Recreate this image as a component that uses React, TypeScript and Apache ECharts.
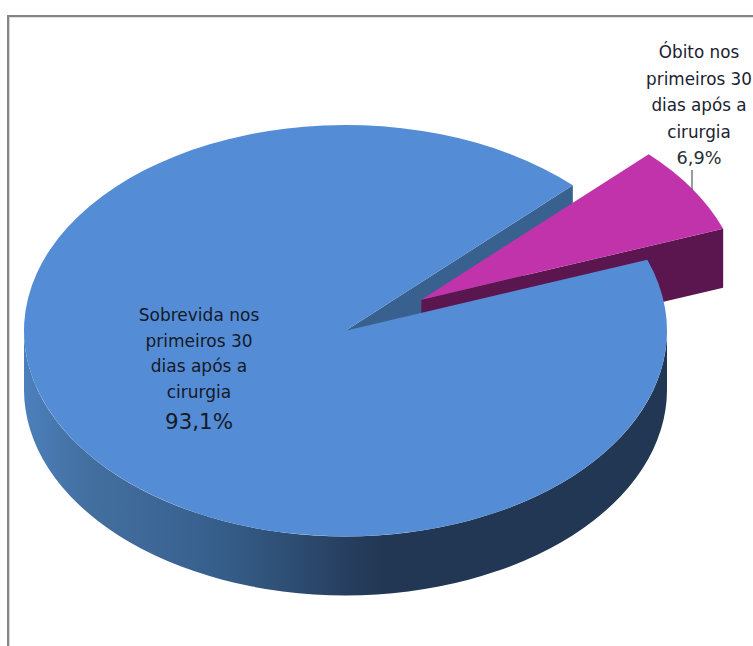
import React, { useEffect, useRef } from "react";
import * as echarts from "echarts";

// Slice names and shares (%), in clockwise order from the start angle.
const categories = ["Óbito nos\nprimeiros 30\ndias após a\ncirurgia", "Sobrevida nos\nprimeiros 30\ndias após a\ncirurgia"];
const values = [6.9, 93.1];
const explode = [0.28, 0];
const topColors = ["#c133ab", "#558cd6"];

const WIDTH = 753;
const HEIGHT = 646;
const CX = 345.5;
const CY = 330.7;
const RX = 321.5;
const RY = 205.7;
const DEPTH = 59;
const START_ANGLE = 45;

const rad = (deg: number) => (deg * Math.PI) / 180;
const fmt = (v: number) => `${v.toFixed(1).replace(".", ",")}%`;

function renderSlice(params: any, api: any) {
  const i = params.dataIndex;
  const total = values.reduce((a, b) => a + b, 0);
  const before = values.slice(0, i).reduce((a, b) => a + b, 0);
  const end = START_ANGLE - (before / total) * 360; // counter-clockwise limit
  const start = end - (api.value(0) / total) * 360; // clockwise limit
  const mid = rad((start + end) / 2);
  const cx = CX + explode[i] * RX * Math.cos(mid);
  const cy = CY - explode[i] * RY * Math.sin(mid);
  const pt = (deg: number, dy = 0) =>
    `${cx + RX * Math.cos(rad(deg))} ${cy - RY * Math.sin(rad(deg)) + dy}`;
  const large = end - start > 180 ? 1 : 0;

  const path = (d: string, fill: any, z2: number) => ({
    type: "path",
    z2,
    shape: { pathData: d },
    style: { fill },
  });

  const top = `M${cx} ${cy}L${pt(start)}A${RX} ${RY} 0 ${large} 0 ${pt(end)}Z`;

  if (i === 0) {
    // Exploded wedge: only its lower radial wall faces the viewer.
    const wall = `M${cx} ${cy}L${pt(start)}L${pt(start, DEPTH)}L${cx} ${cy + DEPTH}Z`;
    return {
      type: "group",
      children: [
        path(wall, "#5b1650", 3),
        path(top, topColors[i], 4),
        {
          type: "line",
          z2: 6,
          shape: { x1: 692, y1: 170, x2: 692, y2: 190 },
          style: { stroke: "#595959", lineWidth: 1.2 },
        },
        {
          type: "text",
          z2: 7,
          style: {
            text: categories[i],
            x: 699,
            y: 92,
            align: "center",
            verticalAlign: "middle",
            font: "16.8px 'DejaVu Sans'",
            lineHeight: 26.4,
            fill: "#1b2230",
          },
        },
        {
          type: "text",
          z2: 7,
          style: {
            text: fmt(api.value(0)),
            x: 699,
            y: 158,
            align: "center",
            verticalAlign: "middle",
            font: "17.7px 'DejaVu Sans'",
            fill: "#2a2f38",
          },
        },
      ],
    };
  }

  // Main body: inner cut wall and the front rim with its horizontal shading.
  const innerWall = `M${cx} ${cy}L${pt(start)}L${pt(start, DEPTH)}L${cx} ${cy + DEPTH}Z`;
  const rim =
    `M${pt(180)}A${RX} ${RY} 0 0 0 ${pt(360)}` +
    `L${pt(360, DEPTH)}A${RX} ${RY} 0 0 1 ${pt(180, DEPTH)}Z`;
  const rimFill = {
    type: "linear",
    x: 0,
    y: 0,
    x2: 1,
    y2: 0,
    colorStops: [
      { offset: 0, color: "#4c7fbc" },
      { offset: 0.1, color: "#436f9f" },
      { offset: 0.28, color: "#38618f" },
      { offset: 0.4, color: "#2f5076" },
      { offset: 0.5, color: "#273f5f" },
      { offset: 0.56, color: "#223753" },
      { offset: 1, color: "#223753" },
    ],
  };
  return {
    type: "group",
    children: [
      path(innerWall, "#38618f", 1),
      path(rim, rimFill, 2),
      path(top, topColors[i], 5),
      {
        type: "text",
        z2: 7,
        style: {
          text: categories[i],
          x: 199,
          y: 353.5,
          align: "center",
          verticalAlign: "middle",
          font: "17px 'DejaVu Sans'",
          lineHeight: 25.7,
          fill: "#141a26",
        },
      },
      {
        type: "text",
        z2: 7,
        style: {
          text: fmt(api.value(0)),
          x: 199,
          y: 421,
          align: "center",
          verticalAlign: "middle",
          font: "21.4px 'DejaVu Sans'",
          fill: "#141a26",
        },
      },
    ],
  };
}

export default function App() {
  const ref = useRef<HTMLDivElement>(null);

  useEffect(() => {
    document.body.style.margin = "0";
    const chart = echarts.init(ref.current!, null, { renderer: "svg" });
    chart.setOption({
      animation: false,
      backgroundColor: "#ffffff",
      graphic: [
        // Chart-area frame, open on the right and at the bottom.
        { type: "rect", shape: { x: 7, y: 15, width: WIDTH - 7, height: 2 }, style: { fill: "#858585" } },
        { type: "rect", shape: { x: 7, y: 15, width: 2, height: HEIGHT - 15 }, style: { fill: "#858585" } },
        { type: "rect", shape: { x: 9, y: 17, width: WIDTH - 9, height: 1 }, style: { fill: "#e2e2e2" } },
        { type: "rect", shape: { x: 9, y: 17, width: 1, height: HEIGHT - 17 }, style: { fill: "#d8d8d8" } },
      ],
      series: [
        {
          type: "custom",
          coordinateSystem: "none",
          silent: true,
          data: values.map((v) => [v]),
          renderItem: renderSlice,
        },
      ],
    });
    return () => chart.dispose();
  }, []);

  return <div ref={ref} style={{ width: WIDTH, height: HEIGHT }} />;
}
